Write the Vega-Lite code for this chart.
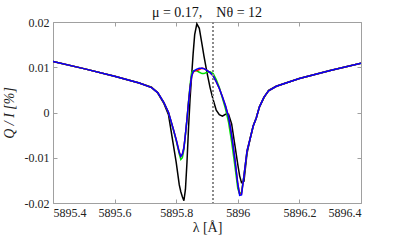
{
  "$schema": "https://vega.github.io/schema/vega-lite/v6.json",
  "width": 308,
  "height": 181,
  "autosize": {"type": "none"},
  "padding": {"left": 53, "top": 22, "right": 38, "bottom": 40},
  "background": "white",
  "title": {"text": "μ = 0.17,\u00a0\u00a0\u00a0\u00a0Nθ = 12", "font": "Liberation Serif", "fontSize": 14, "fontWeight": "normal", "color": "#111", "offset": 5, "dy": 9},
  "config": {
    "view": {"stroke": null},
    "axis": {"grid": false, "domainColor": "#a0a0a0", "tickColor": "#a0a0a0", "tickSize": -4, "labelFont": "Liberation Serif", "labelFontSize": 12, "labelColor": "#222", "titleFont": "Liberation Serif", "titleFontSize": 14, "titleFontWeight": "normal", "titleColor": "#222"}
  },
  "data": {"values": [
    {"l": 5895.40, "k": 0.0113, "g": 0.0113, "r": 0.0113, "b": 0.0113},
    {"l": 5895.50, "k": 0.0097, "g": 0.0097, "r": 0.0097, "b": 0.0097},
    {"l": 5895.60, "k": 0.0080, "g": 0.0080, "r": 0.0080, "b": 0.0080},
    {"l": 5895.68, "k": 0.0065, "g": 0.0065, "r": 0.0065, "b": 0.0065},
    {"l": 5895.72, "k": 0.0056, "g": 0.0055, "r": 0.0055, "b": 0.0055},
    {"l": 5895.74, "k": 0.0043, "g": 0.0044, "r": 0.0044, "b": 0.0044},
    {"l": 5895.76, "k": 0.0020, "g": 0.0022, "r": 0.0022, "b": 0.0022},
    {"l": 5895.775, "k": -0.0005, "g": 0.0000, "r": 0.0000, "b": 0.0000},
    {"l": 5895.79, "k": -0.0068, "g": -0.0036, "r": -0.0035, "b": -0.0035},
    {"l": 5895.80, "k": -0.0110, "g": -0.0062, "r": -0.0060, "b": -0.0060},
    {"l": 5895.81, "k": -0.0160, "g": -0.0092, "r": -0.0088, "b": -0.0088},
    {"l": 5895.815, "k": -0.0175, "g": -0.0104, "r": -0.0097, "b": -0.0097},
    {"l": 5895.82, "k": -0.0186, "g": -0.0100, "r": -0.0092, "b": -0.0092},
    {"l": 5895.825, "k": -0.0195, "g": -0.0082, "r": -0.0078, "b": -0.0078},
    {"l": 5895.83, "k": -0.0170, "g": -0.0048, "r": -0.0048, "b": -0.0048},
    {"l": 5895.835, "k": -0.0110, "g": -0.0015, "r": -0.0015, "b": -0.0015},
    {"l": 5895.84, "k": -0.0035, "g": 0.0024, "r": 0.0022, "b": 0.0022},
    {"l": 5895.845, "k": 0.0030, "g": 0.0060, "r": 0.0055, "b": 0.0055},
    {"l": 5895.85, "k": 0.0080, "g": 0.0088, "r": 0.0080, "b": 0.0080},
    {"l": 5895.855, "k": 0.0130, "g": 0.0092, "r": 0.0089, "b": 0.0090},
    {"l": 5895.86, "k": 0.0172, "g": 0.0092, "r": 0.0092, "b": 0.0093},
    {"l": 5895.867, "k": 0.0196, "g": 0.0092, "r": 0.0093, "b": 0.0096},
    {"l": 5895.875, "k": 0.0186, "g": 0.0089, "r": 0.0095, "b": 0.0098},
    {"l": 5895.884, "k": 0.0150, "g": 0.0086, "r": 0.0098, "b": 0.0098},
    {"l": 5895.89, "k": 0.0125, "g": 0.0086, "r": 0.0097, "b": 0.0097},
    {"l": 5895.90, "k": 0.0088, "g": 0.0089, "r": 0.0093, "b": 0.0093},
    {"l": 5895.91, "k": 0.0055, "g": 0.0090, "r": 0.0088, "b": 0.0088},
    {"l": 5895.92, "k": 0.0028, "g": 0.0086, "r": 0.0081, "b": 0.0081},
    {"l": 5895.93, "k": 0.0005, "g": 0.0073, "r": 0.0068, "b": 0.0068},
    {"l": 5895.94, "k": -0.0005, "g": 0.0055, "r": 0.0053, "b": 0.0053},
    {"l": 5895.95, "k": -0.0008, "g": 0.0032, "r": 0.0035, "b": 0.0035},
    {"l": 5895.96, "k": -0.0004, "g": 0.0008, "r": 0.0015, "b": 0.0015},
    {"l": 5895.97, "k": -0.0004, "g": -0.0022, "r": -0.0010, "b": -0.0010},
    {"l": 5895.98, "k": -0.0025, "g": -0.0065, "r": -0.0050, "b": -0.0050},
    {"l": 5895.99, "k": -0.0070, "g": -0.0115, "r": -0.0100, "b": -0.0100},
    {"l": 5896.00, "k": -0.0115, "g": -0.0168, "r": -0.0158, "b": -0.0158},
    {"l": 5896.006, "k": -0.0140, "g": -0.0180, "r": -0.0180, "b": -0.0183},
    {"l": 5896.012, "k": -0.0155, "g": -0.0176, "r": -0.0180, "b": -0.0182},
    {"l": 5896.02, "k": -0.0152, "g": -0.0140, "r": -0.0140, "b": -0.0140},
    {"l": 5896.03, "k": -0.0090, "g": -0.0085, "r": -0.0085, "b": -0.0085},
    {"l": 5896.04, "k": -0.0058, "g": -0.0058, "r": -0.0058, "b": -0.0058},
    {"l": 5896.05, "k": -0.0030, "g": -0.0030, "r": -0.0030, "b": -0.0030},
    {"l": 5896.06, "k": -0.0012, "g": -0.0012, "r": -0.0012, "b": -0.0012},
    {"l": 5896.07, "k": 0.0012, "g": 0.0012, "r": 0.0012, "b": 0.0012},
    {"l": 5896.085, "k": 0.0033, "g": 0.0034, "r": 0.0034, "b": 0.0034},
    {"l": 5896.10, "k": 0.0049, "g": 0.0048, "r": 0.0048, "b": 0.0048},
    {"l": 5896.125, "k": 0.0058, "g": 0.0058, "r": 0.0058, "b": 0.0058},
    {"l": 5896.20, "k": 0.0075, "g": 0.0075, "r": 0.0075, "b": 0.0075},
    {"l": 5896.30, "k": 0.0093, "g": 0.0093, "r": 0.0093, "b": 0.0093},
    {"l": 5896.40, "k": 0.0109, "g": 0.0109, "r": 0.0109, "b": 0.0109}
  ]},
  "resolve": {"axis": {"x": "independent", "y": "independent"}},
  "layer": [
    {
      "mark": {"type": "line", "color": "black", "strokeWidth": 1.5, "clip": true},
      "encoding": {
        "x": {"field": "l", "type": "quantitative", "scale": {"domain": [5895.4, 5896.4], "nice": false, "zero": false},
              "axis": {"orient": "bottom", "values": [5895.4, 5895.6, 5895.8, 5896, 5896.2, 5896.4], "labelExpr": "'' + datum.value", "title": "λ [Å]", "labelPadding": 8, "titlePadding": 2}},
        "y": {"field": "k", "type": "quantitative", "scale": {"domain": [-0.02, 0.02], "nice": false, "zero": false},
              "axis": {"orient": "left", "values": [-0.02, -0.01, 0, 0.01, 0.02], "labelExpr": "'' + datum.value", "title": "Q / I [%]", "titleFontStyle": "italic", "labelPadding": 8, "titlePadding": 8}}
      }
    },
    {
      "mark": {"type": "line", "color": "#00e000", "strokeWidth": 1.5, "clip": true},
      "encoding": {
        "x": {"field": "l", "type": "quantitative", "axis": null},
        "y": {"field": "g", "type": "quantitative", "axis": null}
      }
    },
    {
      "mark": {"type": "line", "color": "#ff0000", "strokeWidth": 1.5, "clip": true},
      "encoding": {
        "x": {"field": "l", "type": "quantitative", "axis": null},
        "y": {"field": "r", "type": "quantitative", "axis": null}
      }
    },
    {
      "mark": {"type": "line", "color": "#0000ff", "strokeWidth": 1.5, "clip": true},
      "encoding": {
        "x": {"field": "l", "type": "quantitative",
              "axis": {"orient": "top", "values": [5895.4, 5895.6, 5895.8, 5896, 5896.2, 5896.4], "labels": false, "title": null}},
        "y": {"field": "b", "type": "quantitative",
              "axis": {"orient": "right", "values": [-0.02, -0.01, 0, 0.01, 0.02], "labels": false, "title": null}}
      }
    },
    {
      "mark": {"type": "rule", "color": "#8a8a8a", "strokeDash": [2, 2], "strokeWidth": 1},
      "encoding": {"x": {"datum": 5895.92, "type": "quantitative", "axis": null}}
    }
  ]
}
